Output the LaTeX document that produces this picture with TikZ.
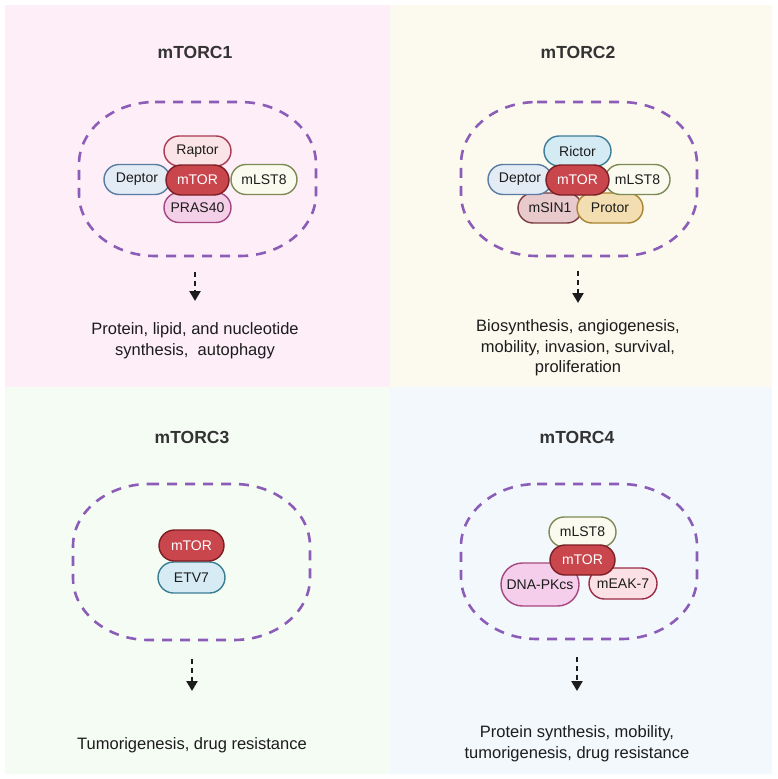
\documentclass[tikz,border=0pt]{standalone}
\usepackage{fontspec}
\setmainfont{Liberation Sans}
\usetikzlibrary{shapes.misc,arrows.meta}
\definecolor{pA}{HTML}{FDEEF7}
\definecolor{pB}{HTML}{FCFAEE}
\definecolor{pC}{HTML}{F5FCF4}
\definecolor{pD}{HTML}{F3F8FC}
\definecolor{dashc}{HTML}{8B5DB8}
\definecolor{txt}{HTML}{1C1C1C}
\definecolor{mtorF}{HTML}{C9464D}\definecolor{mtorD}{HTML}{7B1E25}
\definecolor{raptorF}{HTML}{FBE4E7}\definecolor{raptorD}{HTML}{A93A52}
\definecolor{deptorF}{HTML}{E3EBF5}\definecolor{deptorD}{HTML}{5A7CA3}
\definecolor{mlstF}{HTML}{FAFBEE}\definecolor{mlstD}{HTML}{7D8A56}
\definecolor{prasF}{HTML}{F3D0E7}\definecolor{prasD}{HTML}{A24682}
\definecolor{rictorF}{HTML}{D5EBF4}\definecolor{rictorD}{HTML}{3C7C97}
\definecolor{msinF}{HTML}{E8C9CC}\definecolor{msinD}{HTML}{7A3B3F}
\definecolor{protorF}{HTML}{F2DEB0}\definecolor{protorD}{HTML}{A98330}
\definecolor{etvF}{HTML}{D6EBF4}\definecolor{etvD}{HTML}{3B7E92}
\definecolor{dnaF}{HTML}{F4CEEA}\definecolor{dnaD}{HTML}{A64780}
\definecolor{meakF}{HTML}{FBE0E5}\definecolor{meakD}{HTML}{9B2D45}
\tikzset{
  pill/.style n args={2}{rounded rectangle, draw=#2, fill=#1, line width=1.4pt,
     minimum width=66pt, minimum height=30pt, inner sep=0pt, text=txt,
     font=\fontsize{14}{15}\selectfont},
  mtorbox/.style={pill={mtorF}{mtorD}, text=white, minimum width=64pt},
  titlebox/.style={font=\fontsize{17.5}{20}\selectfont\bfseries, text=txt!90},
  descbox/.style={font=\fontsize{16.5}{20.5}\selectfont, text=txt, align=center},
  dashshape/.style={draw=dashc, line width=2.6pt, dash pattern=on 10pt off 8pt},
  flowarrow/.style={draw=txt, line width=2.4pt, dash pattern=on 5pt off 4pt,
     -{Triangle[length=10pt,width=11pt]}}
}
% dashed blob: L T R B (y grows downward)
\newcommand\dashblob[4]{%
  \pgfmathsetmacro\rxA{76}\pgfmathsetmacro\ryA{62}\pgfmathsetmacro\kA{0.55}%
  \pgfmathsetmacro\xa{#1+\rxA}\pgfmathsetmacro\xb{#3-\rxA}%
  \pgfmathsetmacro\ya{#2+\ryA}\pgfmathsetmacro\yb{#4-\ryA}%
  \pgfmathsetmacro\xac{#1+\rxA-\kA*\rxA}\pgfmathsetmacro\xbc{#3-\rxA+\kA*\rxA}%
  \pgfmathsetmacro\yac{#2+\ryA-\kA*\ryA}\pgfmathsetmacro\ybc{#4-\ryA+\kA*\ryA}%
  \draw[dashshape] (\xa,#2) -- (\xb,#2) .. controls (\xbc,#2) and (#3,\yac) .. (#3,\ya)
    -- (#3,\yb) .. controls (#3,\ybc) and (\xbc,#4) .. (\xb,#4)
    -- (\xa,#4) .. controls (\xac,#4) and (#1,\ybc) .. (#1,\yb)
    -- (#1,\ya) .. controls (#1,\yac) and (\xac,#2) .. cycle;}
\begin{document}
\begin{tikzpicture}[x=1pt,y=-1pt]
\useasboundingbox[fill=white] (0,0) rectangle (777,779);
\fill[pA] (5,5) rectangle (390,387);
\fill[pB] (390,5) rectangle (772,387);
\fill[pC] (5,387) rectangle (390,774);
\fill[pD] (390,387) rectangle (772,774);

% titles
\node[titlebox] (t1) at (195,52) {mTORC1};
\node[titlebox] (t2) at (578,52) {mTORC2};
\node[titlebox] (t3) at (192,437) {mTORC3};
\node[titlebox] (t4) at (577,437) {mTORC4};

% dashed complexes
\dashblob{79}{102}{316}{256}
\dashblob{461}{102}{697}{256}
\dashblob{73}{484}{310}{640}
\dashblob{461}{484}{697}{639}

% mTORC1
\node[pill={deptorF}{deptorD}] (c1dep) at (137,179.5) {Deptor};
\node[pill={mlstF}{mlstD}] (c1mls) at (264,179.5) {mLST8};
\node[pill={raptorF}{raptorD}, minimum width=67pt] (c1rap) at (197.5,151) {Raptor};
\node[pill={prasF}{prasD}, minimum width=67pt] (c1pra) at (197.5,207.5) {PRAS40};
\node[mtorbox, minimum width=63pt] (c1tor) at (197.5,180) {mTOR};

% mTORC2
\node[pill={msinF}{msinD}, minimum width=64pt] (c2sin) at (550,208) {mSIN1};
\node[pill={protorF}{protorD}] (c2pro) at (610,208) {Protor};
\node[pill={deptorF}{deptorD}, minimum width=64pt] (c2dep) at (520,179.5) {Deptor};
\node[pill={mlstF}{mlstD}, minimum width=65pt] (c2mls) at (637.5,179.5) {mLST8};
\node[pill={rictorF}{rictorD}, minimum width=67pt] (c2ric) at (577.5,151) {Rictor};
\node[mtorbox, minimum width=63pt] (c2tor) at (577.5,180) {mTOR};

% mTORC3
\node[pill={etvF}{etvD}, minimum width=67pt, minimum height=31pt] (c3etv) at (191.5,577.5) {ETV7};
\node[mtorbox, minimum width=65pt, minimum height=31pt] (c3tor) at (191.5,545.5) {mTOR};

% mTORC4
\node[pill={mlstF}{mlstD}, minimum width=67pt] (c4mls) at (582.5,532) {mLST8};
\node[pill={dnaF}{dnaD}, minimum width=78pt, minimum height=43pt] (c4dna) at (540,584.5) {DNA-PKcs};
\node[pill={meakF}{meakD}, minimum width=68pt, minimum height=31pt] (c4mea) at (623,583.5) {mEAK-7};
\node[mtorbox, minimum width=65pt] (c4tor) at (582.5,560) {mTOR};

% arrows
\coordinate (a1s) at (195,272); \coordinate (a1e) at (195,301);
\coordinate (a2s) at (578,271); \coordinate (a2e) at (578,303);
\coordinate (a3s) at (192,659); \coordinate (a3e) at (192,691);
\coordinate (a4s) at (577,657); \coordinate (a4e) at (577,691);
\draw[flowarrow] (a1s) -- (a1e);
\draw[flowarrow] (a2s) -- (a2e);
\draw[flowarrow] (a3s) -- (a3e);
\draw[flowarrow] (a4s) -- (a4e);

% descriptions
\node[descbox] (d1) at (195,340.5) {Protein, lipid, and nucleotide\\synthesis,\ \ autophagy};
\node[descbox] (d2) at (578,348) {Biosynthesis, angiogenesis,\\mobility, invasion, survival,\\proliferation};
\node[descbox] (d3) at (192,745) {Tumorigenesis, drug resistance};
\node[descbox] (d4) at (577,743.5) {Protein synthesis, mobility,\\tumorigenesis, drug resistance};
\end{tikzpicture}
\end{document}
